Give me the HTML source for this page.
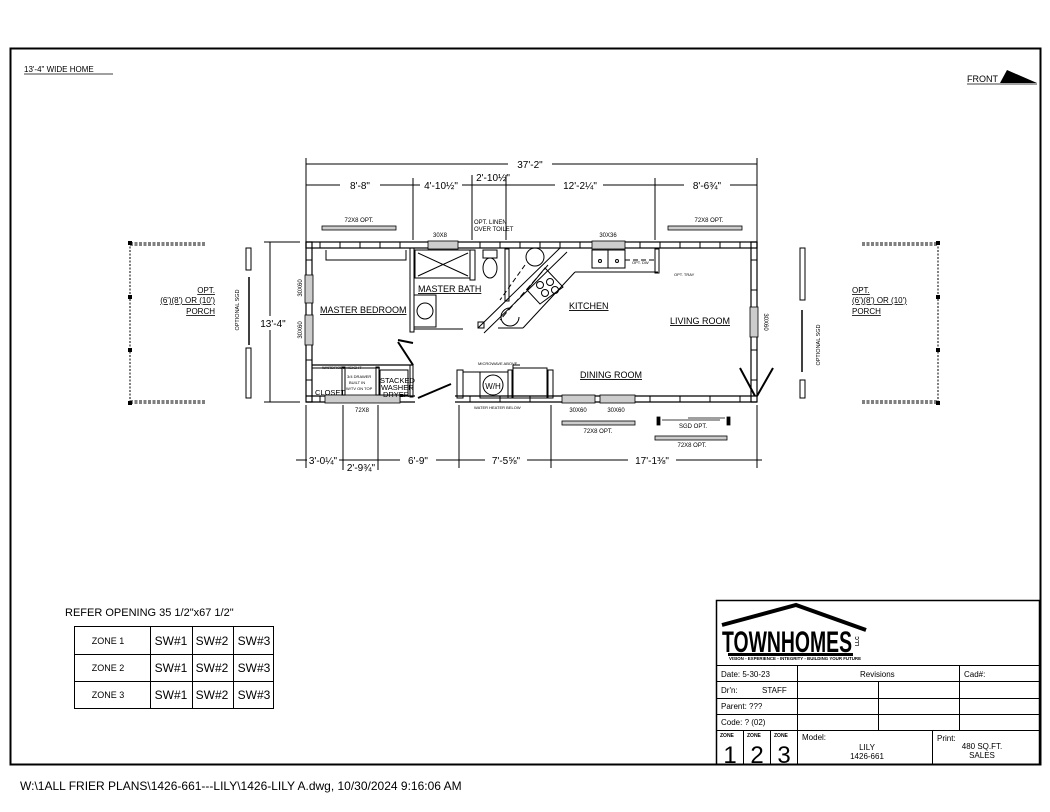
<!DOCTYPE html>
<html><head><meta charset="utf-8"><style>
html,body{margin:0;padding:0;background:#fff;width:1050px;height:812px;overflow:hidden}
svg{display:block}
text{font-family:"Liberation Sans",sans-serif;fill:#000}
</style></head><body>
<svg width="1050" height="812" viewBox="0 0 1050 812" xmlns="http://www.w3.org/2000/svg">
<!-- frame -->
<rect x="10.5" y="48.5" width="1030" height="716" fill="none" stroke="#000" stroke-width="2"/>
<text x="24" y="72" font-size="8">13'-4" WIDE HOME</text>
<line x1="24" y1="74" x2="113" y2="74" stroke="#000" stroke-width="0.8"/>
<text x="967" y="82" font-size="9">FRONT</text>
<line x1="967" y1="84" x2="1037" y2="84" stroke="#000" stroke-width="0.8"/>
<polygon points="1000,83 1007,70 1037,83" fill="#000"/>

<g stroke="#000" fill="none" stroke-width="1">
<!-- top dims -->
<line x1="306" y1="164" x2="757" y2="164"/>
<line x1="306" y1="185" x2="757" y2="185"/>
<line x1="306" y1="158" x2="306" y2="242"/>
<line x1="757" y1="158" x2="757" y2="242"/>
<line x1="413" y1="178" x2="413" y2="240"/>
<line x1="472" y1="175" x2="472" y2="240"/>
<line x1="506" y1="175" x2="506" y2="240"/>
<line x1="655" y1="178" x2="655" y2="240"/>
<!-- bottom dims -->
<line x1="296" y1="460" x2="762" y2="460"/>
<line x1="306" y1="405" x2="306" y2="468"/>
<line x1="343" y1="405" x2="343" y2="470"/>
<line x1="378" y1="405" x2="378" y2="470"/>
<line x1="459" y1="405" x2="459" y2="468"/>
<line x1="551" y1="405" x2="551" y2="468"/>
<line x1="757" y1="405" x2="757" y2="468"/>
<!-- left dim -->
<line x1="270" y1="242" x2="270" y2="402"/>
<line x1="264" y1="242" x2="300" y2="242"/>
<line x1="264" y1="402" x2="300" y2="402"/>
</g>
<g fill="#fff">
<rect x="508" y="158" width="44" height="12"/>
<rect x="340" y="179" width="40" height="12"/>
<rect x="420" y="178" width="42" height="14"/>
<rect x="555" y="178" width="48" height="14"/>
<rect x="684" y="178" width="46" height="14"/>
<rect x="307" y="454" width="32" height="12"/>
<rect x="400" y="454" width="36" height="12"/>
<rect x="485" y="454" width="42" height="14"/>
<rect x="628" y="454" width="48" height="14"/>
<rect x="260" y="316" width="28" height="14"/>
</g>
<g font-size="10">
<text x="530" y="168" text-anchor="middle">37'-2"</text>
<text x="360" y="189" text-anchor="middle">8'-8"</text>
<text x="441" y="189" text-anchor="middle">4'-10½"</text>
<text x="493" y="181" text-anchor="middle">2'-10½"</text>
<text x="580" y="189" text-anchor="middle">12'-2¼"</text>
<text x="707" y="189" text-anchor="middle">8'-6¾"</text>
<text x="323" y="464" text-anchor="middle">3'-0¼"</text>
<text x="361" y="471" text-anchor="middle">2'-9¾"</text>
<text x="418" y="464" text-anchor="middle">6'-9"</text>
<text x="506" y="464" text-anchor="middle">7'-5⅝"</text>
<text x="652" y="464" text-anchor="middle">17'-1⅜"</text>
<text x="273" y="327" text-anchor="middle">13'-4"</text>
</g>

<!-- house walls -->
<g stroke="#000" fill="none">
<rect x="306" y="242" width="451" height="6" stroke-width="1.2"/>
<rect x="306" y="242" width="6" height="160" stroke-width="1.2"/>
<rect x="751" y="242" width="6" height="160" stroke-width="1.2"/>
<path d="M306 396 H415 M306 402 H415 M455 396 H757 M455 402 H757" stroke-width="1.2"/>
</g>
<g stroke="#000" stroke-width="1">
<path d="M320 242v6M340 242v6M360 242v6M380 242v6M400 242v6M480 242v6M500 242v6M520 242v6M540 242v6M560 242v6M580 242v6M640 242v6M660 242v6M680 242v6M700 242v6M720 242v6M740 242v6"/>
<path d="M320 396v6M360 396v6M400 396v6M470 396v6M500 396v6M530 396v6M650 396v6M680 396v6M710 396v6M740 396v6"/>
<path d="M306 260h6M306 360h6M306 380h6M751 260h6M751 290h6M751 350h6M751 380h6"/>
</g>
<!-- windows -->
<g fill="#ccc" stroke="#000" stroke-width="0.8">
<rect x="428" y="241" width="30" height="8"/>
<rect x="592" y="241" width="33" height="8"/>
<rect x="325" y="395" width="75" height="8"/>
<rect x="562" y="395" width="33" height="8"/>
<rect x="600" y="395" width="35" height="8"/>
<rect x="305" y="275" width="8" height="28"/>
<rect x="305" y="315" width="8" height="30"/>
<rect x="750" y="307" width="8" height="30"/>
<rect x="322" y="226" width="74" height="4"/>
<rect x="668" y="226" width="74" height="4"/>
<rect x="562" y="421" width="73" height="4"/>
<rect x="655" y="436" width="72" height="4"/>
</g>
<g font-size="6">
<text x="359" y="222" text-anchor="middle">72X8 OPT.</text>
<text x="709" y="222" text-anchor="middle">72X8 OPT.</text>
<text x="440" y="237" text-anchor="middle">30X8</text>
<text x="608" y="237" text-anchor="middle">30X36</text>
<text x="474" y="224">OPT. LINEN</text>
<text x="474" y="231">OVER TOILET</text>
<text x="362" y="412" text-anchor="middle">72X8</text>
<text x="578" y="412" text-anchor="middle">30X60</text>
<text x="616" y="412" text-anchor="middle">30X60</text>
<text x="598" y="433" text-anchor="middle">72X8 OPT.</text>
<text x="692" y="447" text-anchor="middle">72X8 OPT.</text>
<text x="693" y="428" text-anchor="middle">SGD OPT.</text>
<text x="0" y="0" font-size="6" transform="translate(302,288) rotate(-90)" text-anchor="middle">30X60</text>
<text x="0" y="0" font-size="6" transform="translate(302,330) rotate(-90)" text-anchor="middle">30X60</text>
<text x="0" y="0" font-size="6" transform="translate(764,322) rotate(90)" text-anchor="middle">30X60</text>
<text x="0" y="0" font-size="5.5" transform="translate(239,310) rotate(-90)" text-anchor="middle">OPTIONAL SGD</text>
<text x="0" y="0" font-size="5.5" transform="translate(820,345) rotate(-90)" text-anchor="middle">OPTIONAL SGD</text>
</g>
<!-- SGD opt below -->
<g stroke="#000" fill="none" stroke-width="0.8">
<rect x="657" y="417" width="3" height="8" fill="#000"/>
<rect x="727" y="417" width="3" height="8" fill="#000"/>
<path d="M662 420H720M688 418H725"/>
</g>

<!-- interior -->
<g stroke="#000" fill="none" stroke-width="1">
<!-- bedroom closet top dashed -->
<path d="M326 250v10h80v-10" stroke-dasharray="0"/>
<path d="M326 260H406" stroke-dasharray="5 3"/>
<!-- bath -->
<rect x="410" y="248" width="4" height="84"/>
<path d="M414 329H463"/>
<rect x="415" y="250" width="55" height="28"/>
<path d="M418 253L468 276M468 253L418 276"/>
<rect x="470" y="250" width="5" height="30"/>
<rect x="483" y="250" width="14" height="8"/>
<ellipse cx="490" cy="268" rx="7" ry="10"/>
<rect x="505" y="249" width="4" height="52"/>
<rect x="414" y="295" width="22" height="32"/>
<circle cx="425" cy="311" r="8"/>
<!-- kitchen -->
<path d="M560 248L478 328M567 252L484 333"/>
<rect x="478" y="322" width="6" height="6"/>
<path d="M548 265L500 320" stroke-dasharray="6 3"/>
<path d="M545 268L563 287L540 304L527 290Z"/>
<circle cx="540" cy="285" r="3.5"/><circle cx="550" cy="282" r="3.5"/><circle cx="545" cy="293" r="3.5"/><circle cx="555" cy="290" r="3.5"/>
<path d="M575 272H658M523 328L575 272M523 328H498" />
<rect x="592" y="250" width="33" height="18"/>
<path d="M608 250V268"/><circle cx="600" cy="261" r="1.5"/><circle cx="617" cy="261" r="1.5"/>
<path d="M625 260H655" stroke-dasharray="5 3"/>
<rect x="655" y="249" width="4" height="24"/>
<circle cx="535" cy="257" r="9"/>
<path d="M510 308a9 9 0 1 0 9 9" />
<path d="M525 265L500 300" stroke-dasharray="5 3"/>
<!-- closet/laundry -->
<path d="M312 365H413" stroke-width="1.2"/>
<path d="M312 368H380"/>
<rect x="342" y="367" width="3" height="28"/>
<rect x="376" y="367" width="3" height="28"/>
<rect x="410" y="365" width="3" height="32"/>
<path d="M380 370H408V395H380Z"/>
<path d="M413 343L398 340M413 365L398 342" stroke-width="2"/>
<path d="M418 398L451 384" stroke-width="2"/>
<!-- WH -->
<rect x="457" y="370" width="6" height="28"/>
<rect x="480" y="372" width="28" height="26"/>
<circle cx="493" cy="385" r="10"/>
<rect x="508" y="370" width="4" height="28"/>
<rect x="513" y="368" width="34" height="30"/>
<path d="M513 368V365H520"/>
<rect x="548" y="370" width="5" height="28"/>
<path d="M463 372H480"/>
<!-- right door -->
<path d="M755 396L740 368M757 396L773 368" stroke-width="2"/>
</g>
<text x="493" y="389" font-size="8" text-anchor="middle">W/H</text>
<g font-size="4" >
<text x="478" y="365">MICROWAVE ABOVE</text>
<text x="474" y="409">WATER HEATER BELOW</text>
<text x="322" y="369">WARDROBE HEIGHT</text>
<text x="347" y="378">3/4 DRAWER</text>
<text x="349" y="384">BUILT IN</text>
<text x="346" y="390">W/TV ON TOP</text>
<text x="674" y="276">OPT. TRAY</text>
<text x="632" y="264">OPT. DW</text>
</g>
<g font-size="9">
<text x="320" y="313" text-decoration="underline">MASTER BEDROOM</text>
<text x="418" y="292" text-decoration="underline">MASTER BATH</text>
<text x="569" y="309" text-decoration="underline">KITCHEN</text>
<text x="670" y="324" text-decoration="underline">LIVING ROOM</text>
<text x="580" y="378" text-decoration="underline">DINING ROOM</text>
<text x="315" y="395" font-size="7.5">CLOSET</text>
<text x="380" y="383" font-size="7.5">STACKED</text>
<text x="381" y="390" font-size="7.5">WASHER</text>
<text x="383" y="397" font-size="7.5">DRYER</text>
</g>

<!-- porches -->
<g stroke="#000" fill="none">
<path d="M130 243H205M130 245H205M130 403H205M130 401H205" stroke-dasharray="3 1.5" stroke-width="1"/>
<path d="M130 243V403" stroke-dasharray="2 1.5"/>
<path d="M862 243H938M862 245H938M862 403H938M862 401H938" stroke-dasharray="3 1.5" stroke-width="1"/>
<path d="M938 243V403" stroke-dasharray="2 1.5"/>
<rect x="246" y="248" width="5" height="22"/><rect x="246" y="348" width="5" height="50"/>
<path d="M249 277V345" stroke-width="1.5"/>
<rect x="800" y="248" width="5" height="52"/><rect x="800" y="380" width="5" height="18"/>
<path d="M802 310V372" stroke-width="1.5"/>
</g>
<g fill="#000">
<rect x="128" y="241" width="4" height="4"/><rect x="128" y="295" width="4" height="4"/><rect x="128" y="348" width="4" height="4"/><rect x="128" y="401" width="4" height="4"/>
<rect x="936" y="241" width="4" height="4"/><rect x="936" y="295" width="4" height="4"/><rect x="936" y="348" width="4" height="4"/><rect x="936" y="401" width="4" height="4"/>
</g>
<g font-size="8">
<text x="215" y="293" text-anchor="end" text-decoration="underline">OPT.</text>
<text x="215" y="303" text-anchor="end" text-decoration="underline">(6')(8') OR (10')</text>
<text x="215" y="314" text-anchor="end" text-decoration="underline">PORCH</text>
<text x="852" y="293" text-decoration="underline">OPT.</text>
<text x="852" y="303" text-decoration="underline">(6')(8') OR (10')</text>
<text x="852" y="314" text-decoration="underline">PORCH</text>
</g>

<!-- zone table -->
<text x="65" y="616" font-size="11">REFER OPENING 35 1/2"x67 1/2"</text>
<g stroke="#000" fill="none" stroke-width="1">
<rect x="74.5" y="626.5" width="199" height="82"/>
<path d="M74 654.5H274M74 681.5H274M150.5 626V709M192.5 626V709M233.5 626V709"/>
</g>
<g font-size="9">
<text x="108" y="644" text-anchor="middle">ZONE 1</text>
<text x="108" y="671" text-anchor="middle">ZONE 2</text>
<text x="108" y="698" text-anchor="middle">ZONE 3</text>
</g>
<g font-size="12" text-anchor="middle">
<text x="171" y="645">SW#1</text><text x="212" y="645">SW#2</text><text x="254" y="645">SW#3</text>
<text x="171" y="672">SW#1</text><text x="212" y="672">SW#2</text><text x="254" y="672">SW#3</text>
<text x="171" y="699">SW#1</text><text x="212" y="699">SW#2</text><text x="254" y="699">SW#3</text>
</g>

<!-- title block -->
<g stroke="#000" fill="none" stroke-width="1">
<rect x="716.5" y="600.5" width="323" height="164" stroke-width="1.5"/>
<path d="M716 665.5H1040M716 681.5H1040M716 698.5H1040M716 714.5H1040M716 730.5H1040"/>
<path d="M797.5 665V765M959.5 665V730M878.5 681V730M743.5 730V765M770.5 730V765M932.5 730V765"/>
</g>
<!-- logo -->
<path d="M722 625L796 605L866 630" stroke="#000" stroke-width="4" fill="none"/>
<text x="722" y="652" font-size="30" font-weight="bold" textLength="130" lengthAdjust="spacingAndGlyphs">TOWNHOMES</text>
<text x="0" y="0" font-size="5" font-weight="bold" transform="translate(859,646) rotate(-90)">LLC</text>
<rect x="728" y="653" width="125" height="3" fill="#000"/>
<text x="729" y="660" font-size="4.5" font-weight="bold" textLength="132" lengthAdjust="spacingAndGlyphs">VISION - EXPERIENCE - INTEGRITY - BUILDING YOUR FUTURE</text>
<g font-size="8">
<text x="721" y="677">Date:  5-30-23</text>
<text x="860" y="677">Revisions</text>
<text x="964" y="677">Cad#:</text>
<text x="721" y="693">Dr'n:</text><text x="762" y="693">STAFF</text>
<text x="721" y="709">Parent:   ???</text>
<text x="721" y="725">Code:   ? (02)</text>
<text x="802" y="740">Model:</text>
<text x="867" y="750" text-anchor="middle">LILY</text>
<text x="867" y="759" text-anchor="middle">1426-661</text>
<text x="937" y="741">Print:</text>
<text x="982" y="749" text-anchor="middle">480 SQ.FT.</text>
<text x="982" y="758" text-anchor="middle">SALES</text>
</g>
<g font-family="Liberation Serif" >
<text x="720" y="737" font-size="5" font-weight="bold">ZONE</text>
<text x="747" y="737" font-size="5" font-weight="bold">ZONE</text>
<text x="774" y="737" font-size="5" font-weight="bold">ZONE</text>
<text x="730" y="763" font-size="24" text-anchor="middle" font-weight="normal">1</text>
<text x="757" y="763" font-size="24" text-anchor="middle">2</text>
<text x="784" y="763" font-size="24" text-anchor="middle">3</text>
</g>

<text x="20" y="790" font-size="12">W:\1ALL FRIER PLANS\1426-661---LILY\1426-LILY A.dwg, 10/30/2024 9:16:06 AM</text>
</svg>
</body></html>
